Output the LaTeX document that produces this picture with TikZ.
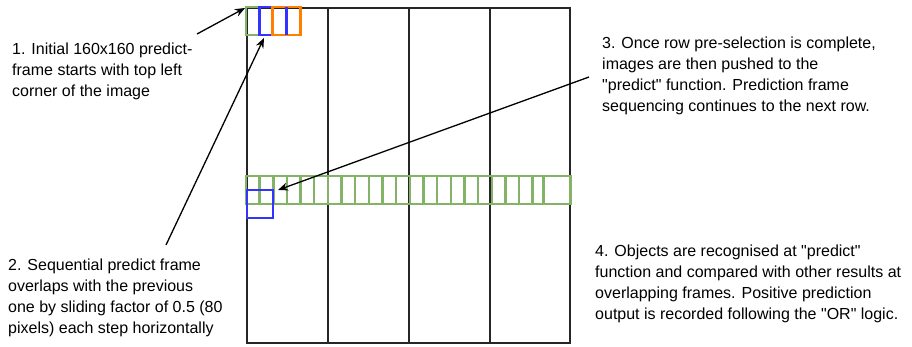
\documentclass[tikz,border=0pt]{standalone}
\usepackage{fontspec}
\newfontfamily\notefont{Liberation Sans}
\usetikzlibrary{arrows.meta}
\definecolor{fgreen}{HTML}{82B366}
\definecolor{fblue}{HTML}{3333FF}
\definecolor{forange}{HTML}{FF8000}
\begin{document}
\begin{tikzpicture}[x=1pt,y=-1pt,
  frame/.style={draw, line width=2.4pt, minimum width=27pt, minimum height=28pt, inner sep=0pt, outer sep=0pt, anchor=north west},
  note/.style={font=\notefont\fontsize{16}{21}\selectfont, align=left, anchor=north west, inner sep=0pt},
  arr/.style={-{Stealth[length=10pt,width=8pt]}, line width=1.3pt},
  gridline/.style={line width=1.6pt, black!85},
  strip/.style={fgreen, line width=2.4pt}]
\useasboundingbox (0,0) rectangle (912,346);
% image grid
\draw[gridline] (247,8) rectangle (570,343);
\foreach \x in {328,409,490} \draw[gridline] (\x,8) -- (\x,343);
% row strip
\draw[strip] (246,176) rectangle (570.5,204);
\foreach \k in {1,...,21} \draw[strip] ({246+\k*13.65},176) -- ({246+\k*13.65},204);
\draw[strip] (543.3,176) -- (543.3,204);
% lower blue frame
\node[frame, draw=fblue, minimum width=26pt] (lb) at (247,190) {};
% top frames
\node[frame, draw=fgreen] (f1) at (246,7) {};
\node[frame, draw=fblue] (f2) at (259.5,7) {};
\node[frame, draw=forange, minimum width=28pt] (f3) at (272.5,7) {};
\draw[fblue, line width=2.4pt] (f2.north east) -- (f2.south east);
% texts
\node[note] (t1) at (12,43) {1. Initial 160x160 predict-\\frame starts with top left\\corner of the image};
\node[note] (t2) at (8,259) {2. Sequential predict frame\\overlaps with the previous\\one by sliding factor of 0.5 (80\\pixels) each step horizontally};
\node[note] (t3) at (602,37) {3. Once row pre-selection is complete,\\images are then pushed to the\\"predict" function. Prediction frame\\sequencing continues to the next row.};
\node[note] (t4) at (595,245) {4. Objects are recognised at "predict"\\function and compared with other results at\\overlapping frames. Positive prediction\\output is recorded following the "OR" logic.};
% arrow ends
\coordinate (a1s) at (197,34);
\coordinate (a1e) at (245,8);
\coordinate (a2s) at (166,245);
\coordinate (a2e) at (264,38);
\coordinate (a3s) at (589,77);
\coordinate (a3e) at (278,190);
\draw[arr] (a1s) -- (a1e);
\draw[arr] (a2s) -- (a2e);
\draw[arr] (a3s) -- (a3e);
\end{tikzpicture}
\end{document}
